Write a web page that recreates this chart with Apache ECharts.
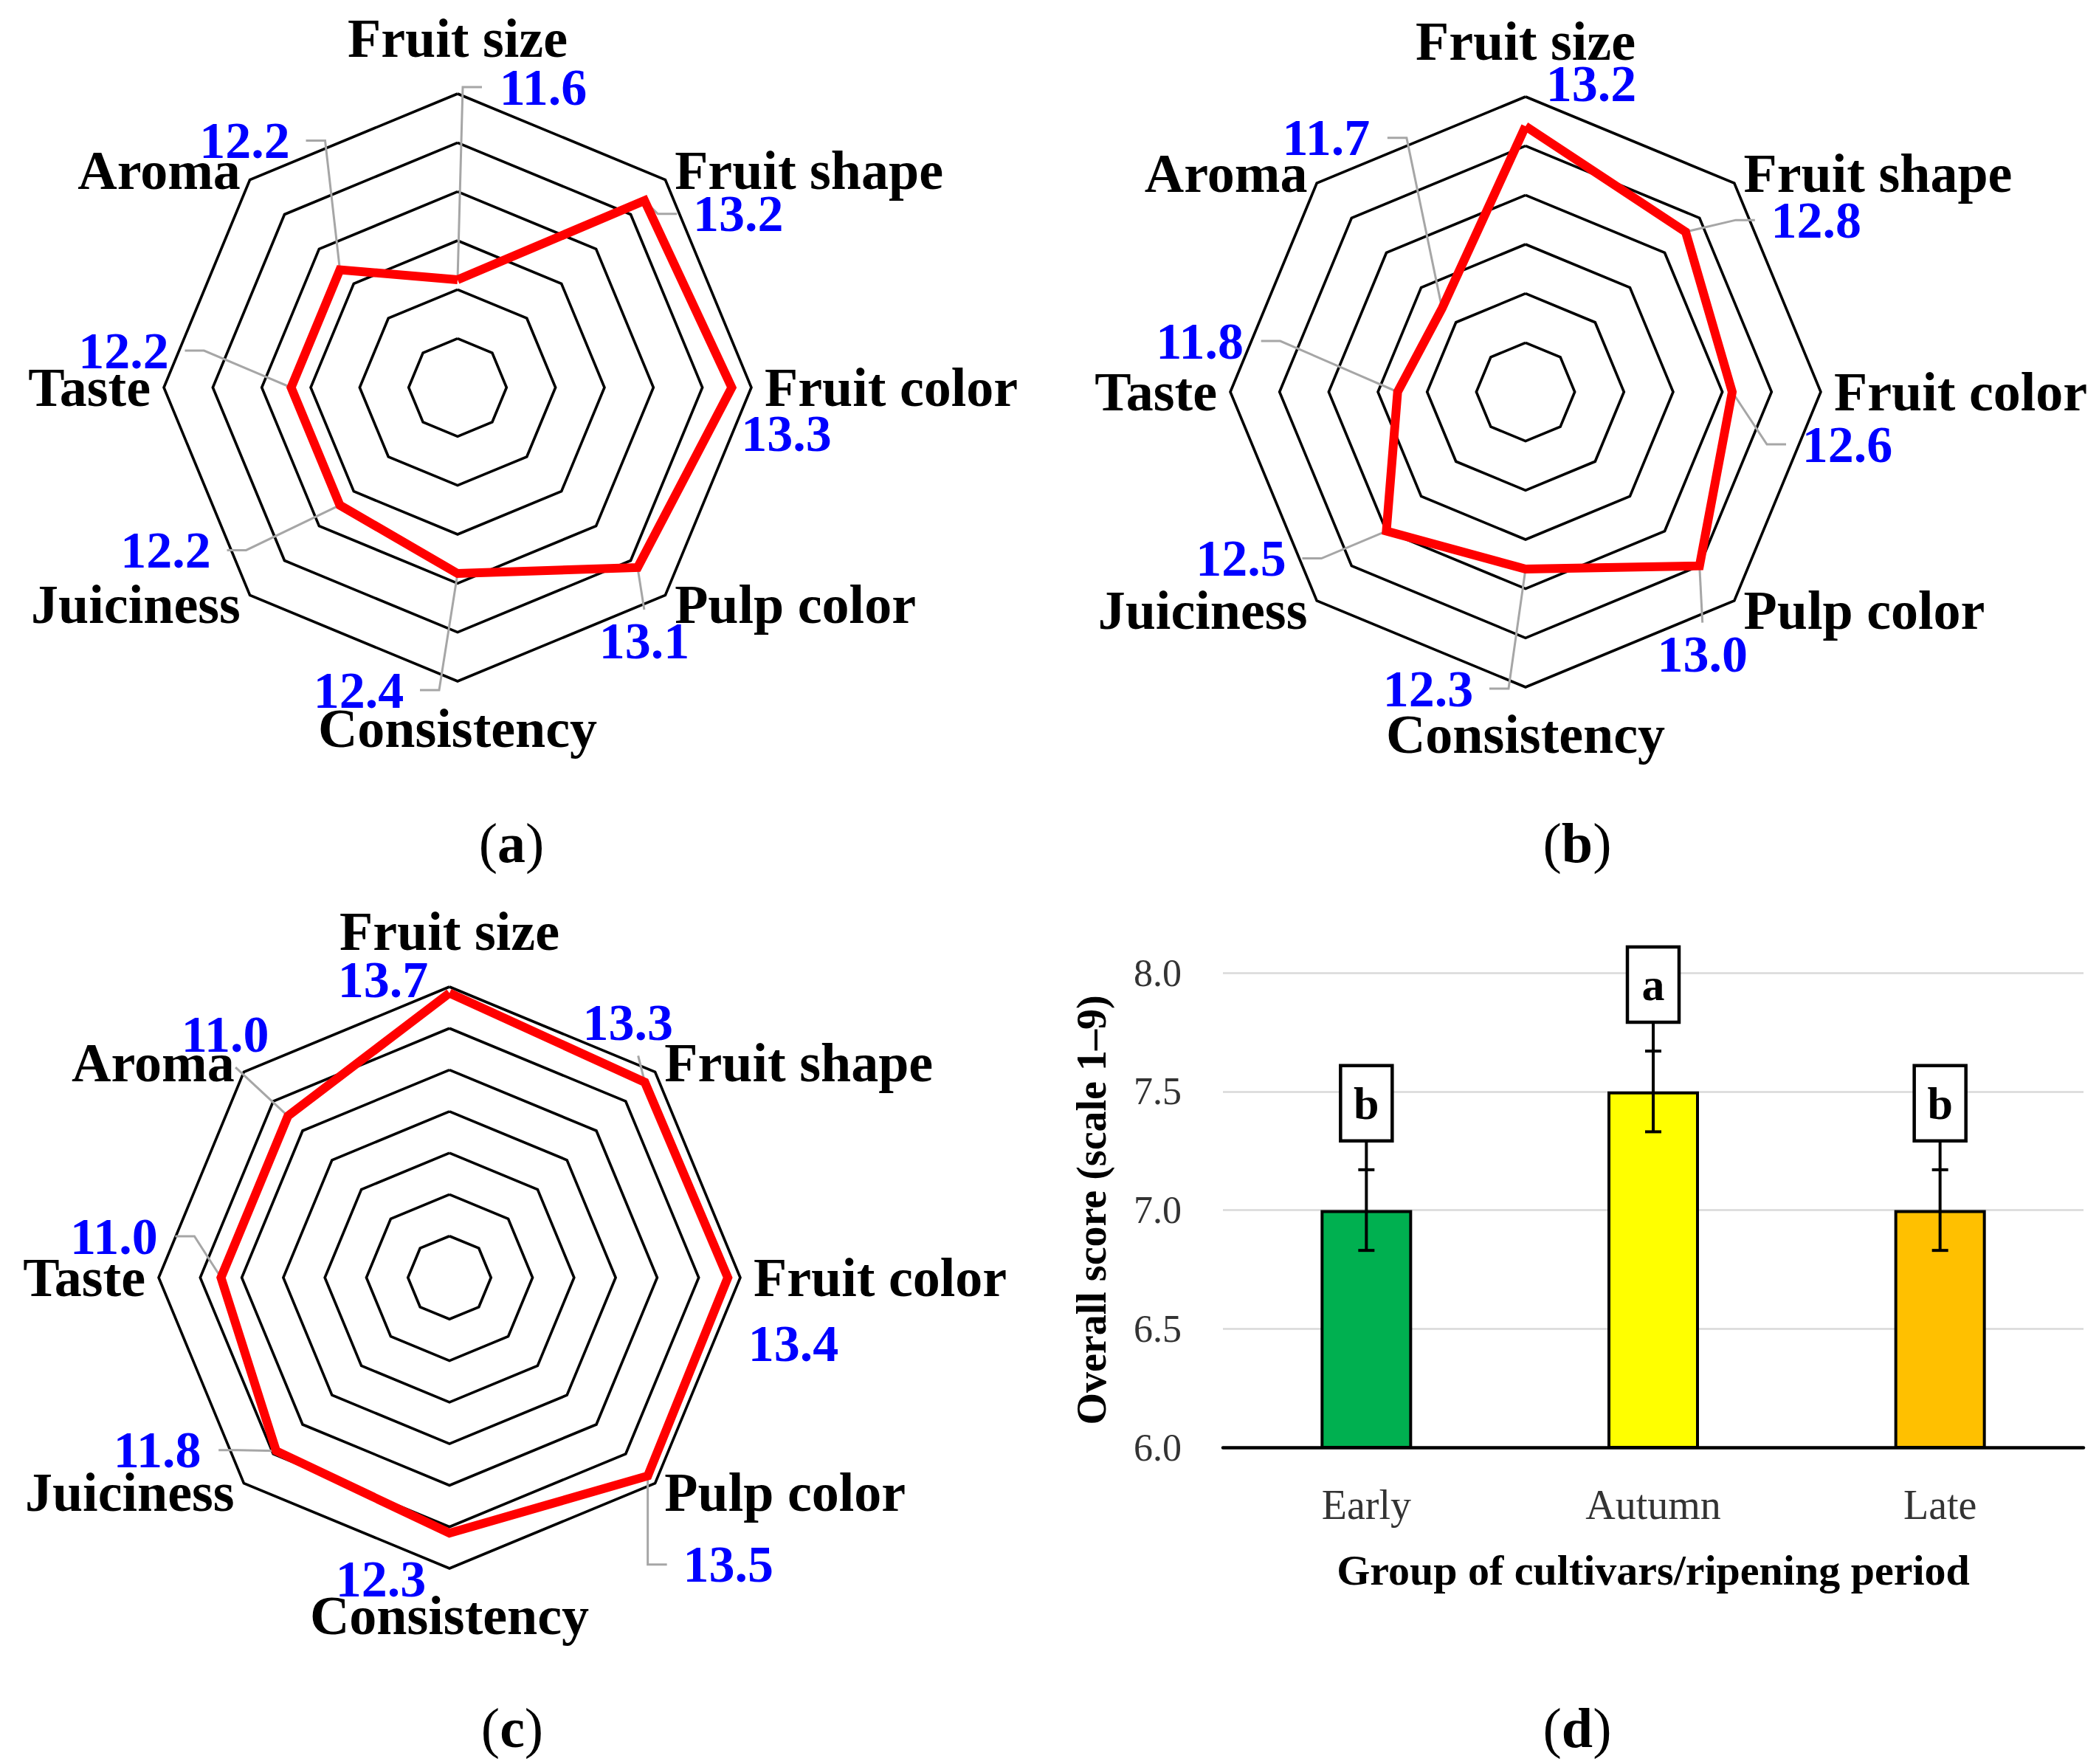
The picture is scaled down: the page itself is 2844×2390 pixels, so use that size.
<!DOCTYPE html>
<html>
<head>
<meta charset="utf-8">
<script src="https://cdn.jsdelivr.net/npm/echarts@6/dist/echarts.min.js"></script>
<style>
html,body{margin:0;padding:0;background:#fff;}
#chart{width:2844px;height:2390px;}
</style>
</head>
<body>
<div id="chart"></div>
<script>
// ---------------- DATA ----------------
const attributes = ['Fruit size', 'Fruit shape', 'Fruit color', 'Pulp color', 'Consistency', 'Juiciness', 'Taste', 'Aroma'];
const scoresA = [11.6, 13.2, 13.3, 13.1, 12.4, 12.2, 12.2, 12.2];
const scoresB = [13.2, 12.8, 12.6, 13.0, 12.3, 12.5, 11.8, 11.7];
const scoresC = [13.7, 13.3, 13.4, 13.5, 12.3, 11.8, 11.0, 11.0];
const ripeningGroups = ['Early', 'Autumn', 'Late'];
const overallScore = [7.0, 7.5, 7.0];
const overallError = [0.17, 0.17, 0.17];
const groupLetters = ['b', 'a', 'b'];
const scoreAxisTicks = [6.0, 6.5, 7.0, 7.5, 8.0];

// ---------------- LAYOUT / STYLE ----------------
const FONT = '"Liberation Serif", "Times New Roman", serif';
const panels = [
  { values: scoresA, center: [620, 525], radius: 398, min: 10.5, max: 13.5, split: 6,
    labels: [[116, -261, 'l'], [127, 18, 'l'], [74, 62, ''], [9, 100, 't'], [-134, 158, 'r'], [-236, 61, 'r'], [-227, -50, 'r'], [-129, -175, 'r']] },
  { values: scoresB, center: [2067, 531], radius: 400, min: 10.5, max: 13.5, split: 6,
    labels: [[89, -58, ''], [177, -16, 'l'], [156, 71, 'l'], [4, 120, 't'], [-132, 162, 'r'], [-197, 37, 'r'], [-268, -69, 'r'], [-157, -231, 'r']] },
  { values: scoresC, center: [609, 1731], radius: 394, min: 0, max: 14, split: 7,
    labels: [[-90, -18, ''], [-23, -81, 'b'], [89, 89, ''], [109, 120, 'l'], [-93, 62, ''], [-161, -1, 'r'], [-145, -56, 'r'], [-85, -111, 'b']] }
];
const captions = [
  { letter: 'a', pos: [693, 1142] },
  { letter: 'b', pos: [2137, 1142] },
  { letter: 'c', pos: [694, 2341] },
  { letter: 'd', pos: [2137, 2341] }
];
const barColors = ['#00B050', '#FFFF00', '#FFC000'];

// ECharts lays radar indicators counter-clockwise; reorder to get the clockwise layout
const ecOrder = [0].concat(attributes.map((_, i) => i).slice(1).reverse());

const chart = echarts.init(document.getElementById('chart'), null, { renderer: 'svg' });

const nameStyle = { fontFamily: FONT, fontSize: 74, fontWeight: 'bold', color: '#000' };
const radars = panels.map(p => ({
  center: p.center,
  radius: p.radius,
  startAngle: 90,
  shape: 'polygon',
  splitNumber: p.split,
  nameGap: 18,
  indicator: ecOrder.map(i => ({ name: attributes[i], min: p.min, max: p.max })),
  axisName: Object.assign({}, nameStyle, {
    formatter: function (name) {
      if (name === 'Fruit size') return '{top|' + name + '}';
      if (name === 'Consistency') return '{bot|' + name + '}';
      return '{n|' + name + '}';
    },
    rich: {
      n: Object.assign({}, nameStyle),
      top: Object.assign({}, nameStyle, { padding: [0, 0, 20, 0] }),
      bot: Object.assign({}, nameStyle, { padding: [9, 0, 0, 0] })
    }
  }),
  axisLine: { show: false },
  axisTick: { show: false },
  axisLabel: { show: false },
  splitArea: { show: false },
  splitLine: { lineStyle: { color: '#000', width: 3.6 } }
}));

const radarSeries = panels.map((p, k) => ({
  type: 'radar',
  radarIndex: k,
  symbol: 'none',
  z: 3,
  lineStyle: { color: '#FF0000', width: 12, join: 'miter' },
  data: [{ value: ecOrder.map(i => p.values[i]) }],
  silent: true
}));

function renderErr(params, api) {
  const i = api.value(0), m = api.value(1), e = api.value(2);
  const lo = api.coord([i, m - e]);
  const hi = api.coord([i, m + e]);
  const x = lo[0];
  const boxH = 102, boxW = 70;
  const boxBottom = hi[1] - 39;
  const st = { stroke: '#000', lineWidth: 4 };
  return {
    type: 'group',
    children: [
      { type: 'line', shape: { x1: x, y1: lo[1], x2: x, y2: boxBottom }, style: st },
      { type: 'line', shape: { x1: x - 11, y1: lo[1], x2: x + 11, y2: lo[1] }, style: st },
      { type: 'line', shape: { x1: x - 11, y1: hi[1], x2: x + 11, y2: hi[1] }, style: st },
      { type: 'rect', shape: { x: x - boxW / 2, y: boxBottom - boxH, width: boxW, height: boxH },
        style: { fill: '#fff', stroke: '#000', lineWidth: 4.5 } },
      { type: 'text', x: x, y: boxBottom - boxH / 2,
        style: { text: groupLetters[params.dataIndex], fill: '#000', fontFamily: FONT, fontSize: 62,
                 fontWeight: 'bold', align: 'center', verticalAlign: 'middle' } }
    ]
  };
}

const option = {
  backgroundColor: '#fff',
  animation: false,
  radar: radars,
  grid: { left: 1657, top: 1318, width: 1166, height: 643, containLabel: false, outerBoundsMode: 'none' },
  xAxis: {
    type: 'category',
    data: ripeningGroups,
    axisLine: { lineStyle: { color: '#000', width: 4.5 } },
    axisTick: { show: false },
    axisLabel: { color: '#333', fontFamily: FONT, fontSize: 56, margin: 50 },
    name: 'Group of cultivars/ripening period',
    nameLocation: 'middle',
    nameGap: 137,
    nameTextStyle: { color: '#000', fontFamily: FONT, fontSize: 58, fontWeight: 'bold' },
    z: 5
  },
  yAxis: {
    type: 'value',
    min: scoreAxisTicks[0],
    max: scoreAxisTicks[scoreAxisTicks.length - 1],
    interval: scoreAxisTicks[1] - scoreAxisTicks[0],
    axisLine: { show: false },
    axisTick: { show: false },
    axisLabel: { color: '#333', fontFamily: FONT, fontSize: 52, margin: 56, formatter: v => v.toFixed(1) },
    splitLine: { lineStyle: { color: '#D9D9D9', width: 2.5 } },
    name: 'Overall score (scale 1–9)',
    nameLocation: 'middle',
    nameGap: 150,
    nameRotate: 90,
    nameMoveOverlap: false,
    nameTextStyle: { color: '#000', fontFamily: FONT, fontSize: 56, fontWeight: 'bold' }
  },
  series: radarSeries.concat([
    {
      type: 'bar',
      barWidth: 124,
      z: 2,
      data: overallScore.map((v, i) => ({ value: v, itemStyle: { color: barColors[i] } })),
      itemStyle: { borderColor: '#000', borderWidth: 4 },
      silent: true
    },
    {
      type: 'custom',
      z: 4,
      renderItem: renderErr,
      data: ripeningGroups.map((g, i) => [i, overallScore[i], overallError[i]]),
      silent: true
    }
  ])
};

chart.setOption(option);

// ---------- value labels with leader lines, and panel captions ----------
function radarPoint(k, value, ecIdx, p) {
  try {
    const cs = chart.getModel().getComponent('radar', k).coordinateSystem;
    if (cs && cs.dataToPoint) {
      const pt = cs.dataToPoint(value, ecIdx);
      if (pt && isFinite(pt[0]) && isFinite(pt[1])) return pt;
    }
  } catch (e) {}
  const f = (value - p.min) / (p.max - p.min);
  const a = Math.PI / 2 + ecIdx * 2 * Math.PI / attributes.length;
  return [p.center[0] + f * p.radius * Math.cos(a), p.center[1] - f * p.radius * Math.sin(a)];
}

const graphics = [];
const LW = 122, LH = 50; // approx value-label glyph box
panels.forEach((p, k) => {
  attributes.forEach((name, i) => {
    const v = p.values[i];
    const ecIdx = ecOrder.indexOf(i);
    const pt = radarPoint(k, v, ecIdx, p);
    const lay = p.labels[i];
    const cx = pt[0] + lay[0], cy = pt[1] + lay[1];
    let pts = null;
    if (lay[2] === 'l') { const ax = cx - LW / 2 - 22; pts = [pt, [ax - 26, cy], [ax, cy]]; }
    else if (lay[2] === 'r') { const ax = cx + LW / 2 + 22; pts = [pt, [ax + 26, cy], [ax, cy]]; }
    else if (lay[2] === 't') { pts = [pt, [cx, cy - LH / 2 - 18]]; }
    else if (lay[2] === 'b') { pts = [pt, [cx + 14, cy + LH / 2 + 20]]; }
    if (pts) {
      graphics.push({ type: 'polyline', z: 1, silent: true, shape: { points: pts },
        style: { stroke: '#A6A6A6', lineWidth: 3, fill: null } });
    }
    graphics.push({ type: 'text', z: 10, silent: true, x: cx, y: cy,
      style: { text: v.toFixed(1), fill: '#0000FF', fontFamily: FONT, fontSize: 70, fontWeight: 'bold',
               align: 'center', verticalAlign: 'middle' } });
  });
});
captions.forEach(c => {
  graphics.push({ type: 'text', z: 10, silent: true, x: c.pos[0], y: c.pos[1],
    style: {
      text: '{p|(}{b|' + c.letter + '}{p|)}',
      align: 'center', verticalAlign: 'middle',
      rich: {
        p: { fontFamily: FONT, fontSize: 76, fill: '#000' },
        b: { fontFamily: FONT, fontSize: 76, fontWeight: 'bold', fill: '#000' }
      }
    } });
});
chart.setOption({ graphic: graphics });
</script>
</body>
</html>
